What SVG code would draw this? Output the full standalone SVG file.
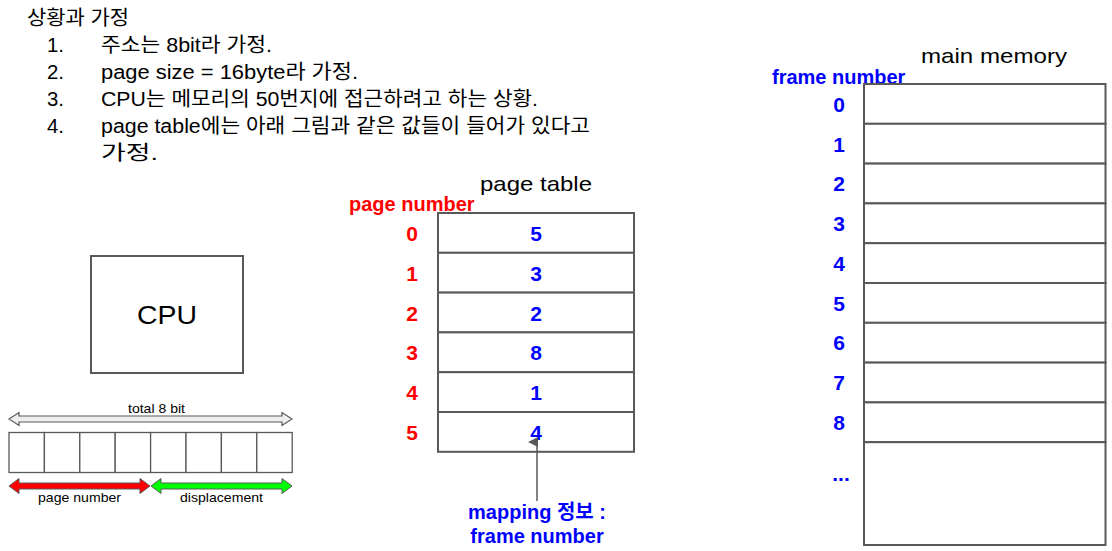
<svg xmlns="http://www.w3.org/2000/svg" width="1112" height="551" viewBox="0 0 1112 551">
<style>
.t{font-family:"Liberation Sans","Noto Sans CJK KR",Arial,sans-serif;fill:#000}
.h{font-size:20px}
.b{font-weight:bold}
.red{fill:#ff0000}
.blue{fill:#0000ff}
.num{font-size:21px;font-weight:bold;text-anchor:middle}
.lbl{font-size:20px;font-weight:bold}
.box{fill:#fff;stroke:#595959;stroke-width:2}
.cell{fill:#fff;stroke:#595959;stroke-width:1.3}
.sm{font-size:13px;text-anchor:middle}
</style>
<defs>
<marker id="ah" markerWidth="10" markerHeight="10" refX="5" refY="9" orient="auto" markerUnits="userSpaceOnUse" viewBox="0 0 10 10">
<path d="M0,10 L5,0 L10,10 Z" fill="#595959"/>
</marker>
</defs>
<rect width="1112" height="551" fill="#fff"/>

<g id="assumptions">
<text class="t h" x="27" y="25" textLength="102" lengthAdjust="spacingAndGlyphs">상황과 가정</text>
<text class="t h" x="47" y="52" textLength="17" lengthAdjust="spacingAndGlyphs">1.</text><text class="t h" x="101" y="52" textLength="171" lengthAdjust="spacingAndGlyphs">주소는 8bit라 가정.</text>
<text class="t h" x="47" y="79" textLength="17" lengthAdjust="spacingAndGlyphs">2.</text><text class="t h" x="101" y="79" textLength="257" lengthAdjust="spacingAndGlyphs">page size = 16byte라 가정.</text>
<text class="t h" x="47" y="106" textLength="17" lengthAdjust="spacingAndGlyphs">3.</text><text class="t h" x="101" y="106" textLength="437" lengthAdjust="spacingAndGlyphs">CPU는 메모리의 50번지에 접근하려고 하는 상황.</text>
<text class="t h" x="47" y="133" textLength="17" lengthAdjust="spacingAndGlyphs">4.</text><text class="t h" x="101" y="133" textLength="489" lengthAdjust="spacingAndGlyphs">page table에는 아래 그림과 같은 값들이 들어가 있다고</text>
<text class="t h" x="101" y="160" textLength="57" lengthAdjust="spacingAndGlyphs">가정.</text>
</g>

<g id="cpu">
<rect class="box" x="91" y="256" width="152" height="117"/>
<text class="t" x="137" y="324" font-size="25" textLength="60" lengthAdjust="spacingAndGlyphs">CPU</text>
</g>

<g id="address-bits">
<path d="M9,419 L19,412.5 L19,416 L282,416 L282,412.5 L292,419 L282,425.5 L282,422 L19,422 L19,425.5 Z" fill="#eeeeee" stroke="#595959" stroke-width="1.2"/>
<text class="t" x="128" y="413" font-size="13" textLength="57" lengthAdjust="spacingAndGlyphs">total 8 bit</text>
<g>
<rect class="cell" x="9" y="432.5" width="35.4" height="40"/>
<rect class="cell" x="44.4" y="432.5" width="35.4" height="40"/>
<rect class="cell" x="79.8" y="432.5" width="35.4" height="40"/>
<rect class="cell" x="115.2" y="432.5" width="35.4" height="40"/>
<rect class="cell" x="150.6" y="432.5" width="35.4" height="40"/>
<rect class="cell" x="186" y="432.5" width="35.4" height="40"/>
<rect class="cell" x="221.4" y="432.5" width="35.4" height="40"/>
<rect class="cell" x="256.8" y="432.5" width="35.4" height="40"/>
</g>
<path d="M9,486 L19,478.5 L19,483 L140,483 L140,478.5 L150,486 L140,493.5 L140,489 L19,489 L19,493.5 Z" fill="#ff0000" stroke="#595959" stroke-width="1"/>
<path d="M151,486 L161,478.5 L161,483 L282,483 L282,478.5 L292,486 L282,493.5 L282,489 L161,489 L161,493.5 Z" fill="#00ff00" stroke="#595959" stroke-width="1"/>
<text class="t" x="38" y="502" font-size="13" textLength="83" lengthAdjust="spacingAndGlyphs">page number</text>
<text class="t" x="180" y="502" font-size="13" textLength="83" lengthAdjust="spacingAndGlyphs">displacement</text>
</g>

<g id="page-table">
<text class="t" x="480" y="191" font-size="21" textLength="112" lengthAdjust="spacingAndGlyphs">page table</text>
<text class="t lbl red" x="349" y="211">page number</text>
<rect class="box" x="438" y="213" width="196" height="39.8"/>
<rect class="box" x="438" y="252.8" width="196" height="39.8"/>
<rect class="box" x="438" y="292.6" width="196" height="39.8"/>
<rect class="box" x="438" y="332.4" width="196" height="39.8"/>
<rect class="box" x="438" y="372.2" width="196" height="39.8"/>
<rect class="box" x="438" y="412" width="196" height="39.8"/>
<g class="t num red">
<text x="412" y="241">0</text><text x="412" y="281">1</text><text x="412" y="321">2</text>
<text x="412" y="360">3</text><text x="412" y="400">4</text><text x="412" y="440">5</text>
</g>
<g class="t num blue">
<text x="536" y="241">5</text><text x="536" y="281">3</text><text x="536" y="321">2</text>
<text x="536" y="360">8</text><text x="536" y="400">1</text><text x="536" y="440">4</text>
</g>
</g>

<g id="main-memory">
<text class="t" x="921" y="63" font-size="21" textLength="146" lengthAdjust="spacingAndGlyphs">main memory</text>
<text class="t lbl blue" x="772" y="84">frame number</text>
<rect class="box" x="864" y="84" width="241.5" height="39.8"/>
<rect class="box" x="864" y="123.8" width="241.5" height="39.8"/>
<rect class="box" x="864" y="163.6" width="241.5" height="39.8"/>
<rect class="box" x="864" y="203.4" width="241.5" height="39.8"/>
<rect class="box" x="864" y="243.2" width="241.5" height="39.8"/>
<rect class="box" x="864" y="283" width="241.5" height="39.8"/>
<rect class="box" x="864" y="322.8" width="241.5" height="39.8"/>
<rect class="box" x="864" y="362.6" width="241.5" height="39.8"/>
<rect class="box" x="864" y="402.4" width="241.5" height="39.8"/>
<rect class="box" x="864" y="442.2" width="241.5" height="102.8"/>
<g class="t num blue">
<text x="839" y="112">0</text><text x="839" y="152">1</text><text x="839" y="191">2</text>
<text x="839" y="231">3</text><text x="839" y="271">4</text><text x="839" y="311">5</text>
<text x="839" y="350">6</text><text x="839" y="390">7</text><text x="839" y="430">8</text>
<text x="841" y="481">...</text>
</g>
</g>

<g id="connectors">
<line x1="537" y1="501" x2="537" y2="442" stroke="#595959" stroke-width="1.5" marker-end="url(#ah)"/>
</g>

<g id="mapping-note">
<text class="t lbl blue" x="537" y="519" font-size="19" text-anchor="middle">mapping 정보 :</text>
<text class="t lbl blue" x="537" y="543" font-size="19" text-anchor="middle">frame number</text>
</g>
</svg>
